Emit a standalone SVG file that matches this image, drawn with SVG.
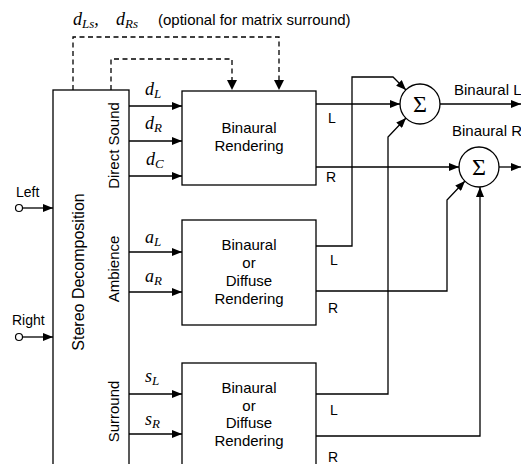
<svg xmlns="http://www.w3.org/2000/svg" width="521" height="464" viewBox="0 0 521 464">
<style>
.box{fill:#fff;stroke:#000;stroke-width:1.3}
.ln{fill:none;stroke:#000;stroke-width:1.3}
.ar{fill:none;stroke:#000;stroke-width:1.3;marker-end:url(#ah)}
.dash{fill:none;stroke:#000;stroke-width:1.3;stroke-dasharray:5 3.5}
.t{font-family:"Liberation Sans",Arial,sans-serif;font-size:15px;fill:#000}
.lbl{font-family:"Liberation Sans",Arial,sans-serif;font-size:14px;fill:#000}
.out{font-family:"Liberation Sans",Arial,sans-serif;font-size:15px;fill:#000}
.m{font-family:"Liberation Serif","DejaVu Serif",serif;font-style:italic;font-size:18px;fill:#000}
.sub{font-size:13px}
.sig{font-family:"Liberation Serif","DejaVu Serif",serif;font-size:24px;fill:#000}
</style>
<defs>
<marker id="ah" viewBox="0 0 10 8" refX="10" refY="4" markerWidth="10" markerHeight="8" orient="auto" markerUnits="userSpaceOnUse">
<path d="M0,0 L10,4 L0,8 z" fill="#000"/>
</marker>
</defs>

<g id="top-label">
<text class="m" x="73" y="25">d<tspan class="sub" dy="3">Ls</tspan><tspan dy="-3">,</tspan></text>
<text class="m" x="116" y="25">d<tspan class="sub" dy="3">Rs</tspan></text>
<text class="t" x="158" y="25">(optional for matrix surround)</text>
</g>

<g id="inputs">
<circle cx="19" cy="208" r="3.5" fill="#fff" stroke="#000" stroke-width="1.2"/>
<text class="lbl" x="16" y="197">Left</text>
<circle cx="19" cy="337" r="3.5" fill="#fff" stroke="#000" stroke-width="1.2"/>
<text class="lbl" x="12" y="325">Right</text>
</g>

<g id="stereo-decomposition">
<rect class="box" x="53" y="90" width="76" height="390"/>
<text class="t" style="font-size:16px" text-anchor="middle" transform="translate(84,272) rotate(-90)">Stereo Decomposition</text>
<text class="t" text-anchor="middle" transform="translate(119,145.5) rotate(-90)">Direct Sound</text>
<text class="t" text-anchor="middle" transform="translate(119,269) rotate(-90)">Ambience</text>
<text class="t" text-anchor="middle" transform="translate(119,411.5) rotate(-90)">Surround</text>
</g>

<g id="binaural-rendering">
<rect class="box" x="182" y="91" width="134" height="94"/>
<text class="t" x="249" y="133" text-anchor="middle">Binaural</text>
<text class="t" x="249" y="151" text-anchor="middle">Rendering</text>
</g>

<g id="ambience-rendering">
<rect class="box" x="182" y="220" width="134" height="105"/>
<text class="t" x="249" y="250" text-anchor="middle">Binaural</text>
<text class="t" x="249" y="268" text-anchor="middle">or</text>
<text class="t" x="249" y="286" text-anchor="middle">Diffuse</text>
<text class="t" x="249" y="304" text-anchor="middle">Rendering</text>
</g>

<g id="surround-rendering">
<rect class="box" x="182" y="363" width="134" height="120"/>
<text class="t" x="249" y="393" text-anchor="middle">Binaural</text>
<text class="t" x="249" y="411" text-anchor="middle">or</text>
<text class="t" x="249" y="428" text-anchor="middle">Diffuse</text>
<text class="t" x="249" y="446" text-anchor="middle">Rendering</text>
</g>

<g id="sum-left">
<circle cx="420" cy="104" r="20" fill="#fff" stroke="#000" stroke-width="1.3"/>
<text class="sig" x="420" y="112" text-anchor="middle">Σ</text>
</g>
<g id="sum-right">
<circle cx="479" cy="167" r="20" fill="#fff" stroke="#000" stroke-width="1.3"/>
<text class="sig" x="479" y="175" text-anchor="middle">Σ</text>
</g>

<g id="connectors">
<line class="ar" x1="22.5" y1="208" x2="53" y2="208"/>
<line class="ar" x1="22.5" y1="337" x2="53" y2="337"/>
<path class="dash" d="M73,90 V37 H279 V80"/>
<path d="M274,80 L279,90 L284,80 z" fill="#000"/>
<path class="dash" d="M111,90 V59 H232 V80"/>
<path d="M227,80 L232,90 L237,80 z" fill="#000"/>
<line class="ar" x1="129" y1="106" x2="182" y2="106"/>
<line class="ar" x1="129" y1="141" x2="182" y2="141"/>
<line class="ar" x1="129" y1="176" x2="182" y2="176"/>
<line class="ar" x1="129" y1="252" x2="182" y2="252"/>
<line class="ar" x1="129" y1="292" x2="182" y2="292"/>
<line class="ar" x1="129" y1="394" x2="182" y2="394"/>
<line class="ar" x1="129" y1="434" x2="182" y2="434"/>
<line class="ar" x1="316" y1="104" x2="400" y2="104"/>
<line class="ar" x1="316" y1="167" x2="459" y2="167"/>
<path class="ar" d="M316,246 H352 V77 H393 L406,90"/>
<path class="ar" d="M316,394 H388 V137 L406,118"/>
<path class="ar" d="M316,291 H447 V200 L465,181"/>
<path class="ar" d="M316,436 H480 V187"/>
<line class="ar" x1="440" y1="104" x2="521" y2="104"/>
<line class="ar" x1="499" y1="167" x2="521" y2="167"/>
</g>

<g id="labels">
<text class="m" x="145" y="95">d<tspan class="sub" dy="3">L</tspan></text>
<text class="m" x="145" y="129">d<tspan class="sub" dy="3">R</tspan></text>
<text class="m" x="146" y="165">d<tspan class="sub" dy="3">C</tspan></text>
<text class="m" x="145" y="243">a<tspan class="sub" dy="3">L</tspan></text>
<text class="m" x="145" y="282">a<tspan class="sub" dy="3">R</tspan></text>
<text class="m" x="145" y="382">s<tspan class="sub" dy="3">L</tspan></text>
<text class="m" x="145" y="425">s<tspan class="sub" dy="3">R</tspan></text>
<text class="lbl" x="328" y="123">L</text>
<text class="lbl" x="326" y="182">R</text>
<text class="lbl" x="330" y="265">L</text>
<text class="lbl" x="328" y="313">R</text>
<text class="lbl" x="330" y="415">L</text>
<text class="lbl" x="328" y="462">R</text>
<text class="out" x="454" y="95">Binaural L</text>
<text class="out" x="452" y="136">Binaural R</text>
</g>
</svg>
